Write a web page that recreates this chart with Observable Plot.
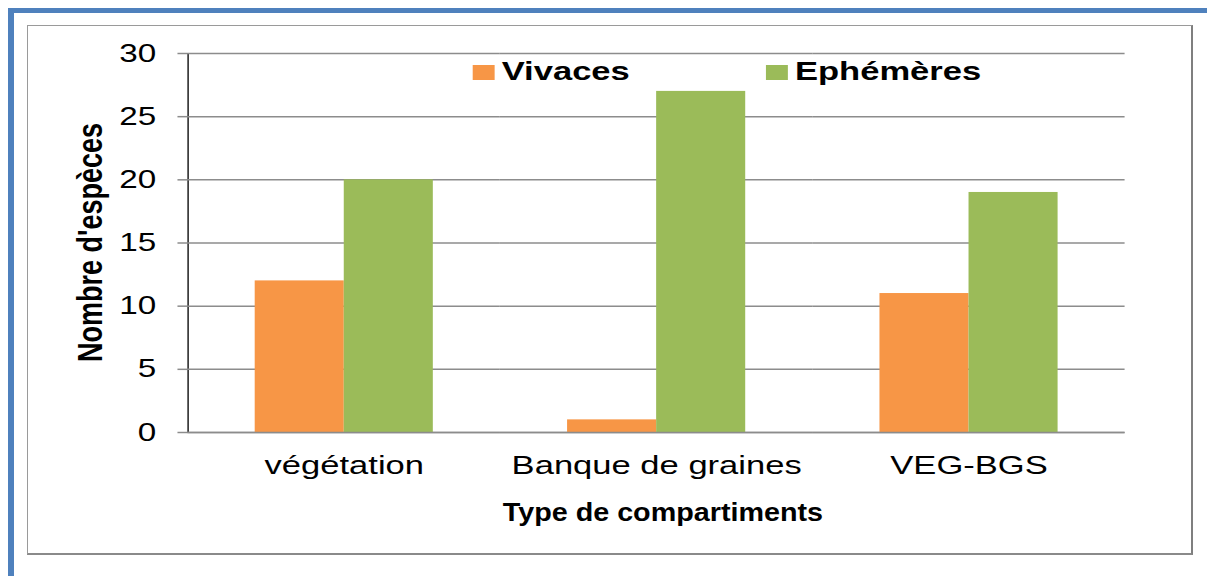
<!DOCTYPE html>
<html>
<head>
<meta charset="utf-8">
<script src="https://cdn.jsdelivr.net/npm/d3@7"></script>
<script src="https://cdn.jsdelivr.net/npm/@observablehq/plot@0.6"></script>
<style>
  html, body { margin: 0; padding: 0; background: #fff; overflow: hidden; }
  #page { position: relative; width: 1207px; height: 576px; overflow: hidden; }
  .blue-top { position: absolute; left: 8px; top: 8px; width: 1199px; height: 5px; background: #4f81bd; }
  .blue-left { position: absolute; left: 8px; top: 8px; width: 6px; height: 568px; background: #4f81bd; }
  .gray-box { position: absolute; left: 27px; top: 25px; width: 1163px; height: 527px;
              border-left: 1.5px solid #9a9a9a; border-top: 1.5px solid #9a9a9a;
              border-right: 2px solid #7f7f7f; border-bottom: 2px solid #8a8a8a; }
  #stage { position: absolute; left: 0; top: 0; width: 908px; height: 576px;
           transform-origin: 0 0; transform: scaleX(1.3293); }
  #stage svg { position: absolute; left: 0; top: 0; }
  #stage svg g[aria-label^="y-axis"] path,
  #stage svg g[aria-label^="y-axis"] line { stroke: #8c8c8c; stroke-width: 1.5px; }
  #stage svg g[aria-label^="y-axis"] text { font-size: 25px; }
</style>
</head>
<body>
<div id="page">
  <div class="gray-box"></div>
  <div class="blue-top"></div>
  <div class="blue-left"></div>
  <div id="stage"></div>
</div>
<script>
// ---- data ----
const categories = ["végétation", "Banque de graines", "VEG-BGS"];
const series = ["Vivaces", "Ephémères"];
const vivaces = [12, 1, 11];
const ephemeres = [20, 27, 19];
const yTicks = [0, 5, 10, 15, 20, 25, 30];
const colors = ["#F79646", "#9BBB59"];
const yTitle = "Nombre d'espèces";
const xTitle = "Type de compartiments";

const data = categories.flatMap((c, i) => [
  {category: c, series: series[0], value: vivaces[i]},
  {category: c, series: series[1], value: ephemeres[i]}
]);

const W = 908, H = 576;
const chart = Plot.plot({
  width: W,
  height: H,
  marginTop: 53,
  marginBottom: 144,
  marginLeft: 141.4,
  marginRight: 61.6,
  style: {fontFamily: "'Liberation Sans', Arial, sans-serif", fontSize: "26px", color: "#000", background: "transparent", overflow: "visible"},
  facet: {data, x: "category"},
  fx: {domain: categories, padding: 0, label: null, tickSize: 0, tickPadding: 23},
  x: {domain: series, axis: null, paddingInner: 0, paddingOuter: 0.74},
  y: {domain: [0, 30], ticks: yTicks, tickSize: 7.5, tickPadding: 16.5, label: null, line: true, tickFormat: d => String(d)},
  color: {domain: series, range: colors},
  marks: [
    Plot.ruleY(yTicks, {stroke: "#8c8c8c", strokeWidth: 1.5}),
    Plot.barY(data, {x: "series", y: "value", fill: "series"}),
    Plot.ruleY([0], {stroke: "#8c8c8c", strokeWidth: 1.5})
  ]
});
document.getElementById("stage").appendChild(chart);

// titles and legend
const svg = d3.select(chart);
const fam = "'Liberation Sans', Arial, sans-serif";
svg.append("text")
  .attr("transform", "translate(76.7,242.5) rotate(-90)")
  .attr("text-anchor", "middle")
  .attr("font-family", fam).attr("font-weight", "bold").attr("font-size", 27)
  .attr("fill", "#000")
  .text(yTitle);
svg.append("text")
  .attr("x", 498.7).attr("y", 520.7)
  .attr("text-anchor", "middle")
  .attr("font-family", fam).attr("font-weight", "bold").attr("font-size", 25)
  .attr("textLength", 241).attr("lengthAdjust", "spacingAndGlyphs")
  .attr("fill", "#000")
  .text(xTitle);

const legendX = [355.6, 576.2];
const lg = svg.append("g").attr("text-anchor", "start");
series.forEach((s, i) => {
  lg.append("rect").attr("x", legendX[i]).attr("y", 65).attr("width", 16.5).attr("height", 15).attr("fill", colors[i]);
  lg.append("text").attr("x", legendX[i] + 21.8).attr("y", 80)
    .attr("text-anchor", "start")
    .attr("font-family", fam).attr("font-weight", "bold").attr("font-size", 26)
    .attr("fill", "#000").text(s);
});
</script>
</body>
</html>
